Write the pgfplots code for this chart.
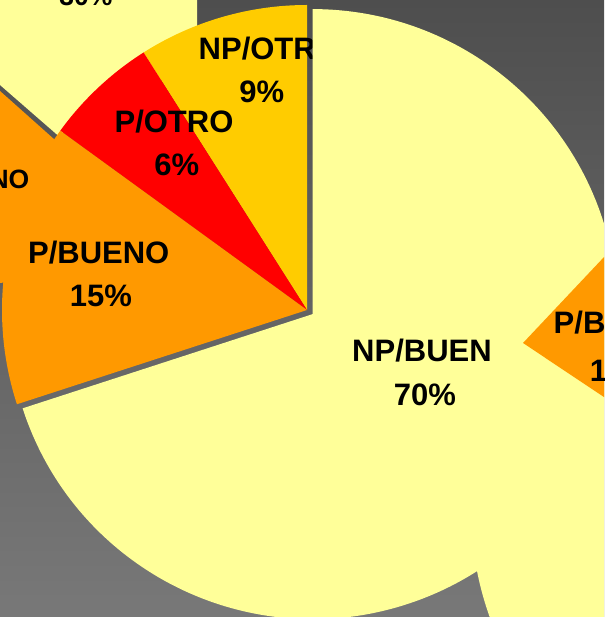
\documentclass[border=0pt]{standalone}
\usepackage{fontspec}
\setmainfont{Liberation Sans}
\usepackage{pgfplots}
\pgfplotsset{compat=1.18}
\definecolor{pyel}{HTML}{FFFF99}
\definecolor{porg}{HTML}{FF9900}
\definecolor{pred}{HTML}{FF0000}
\definecolor{pgold}{HTML}{FFCC00}
\definecolor{bgtop}{HTML}{4E4E4E}
\definecolor{bgbot}{HTML}{787878}
\tikzset{lbl/.style={font=\bfseries\fontsize{31}{31}\selectfont, inner sep=0pt, text=black},
  slbl/.style={font=\bfseries\fontsize{26.5}{26.5}\selectfont, inner sep=0pt, text=black}}
\begin{document}
\begin{tikzpicture}
\begin{axis}[width=604pt,height=617pt,scale only axis,
  xmin=0,xmax=604,ymin=0,ymax=617,y dir=reverse,hide axis,clip=false]
\begin{scope}
\clip (axis cs:0,0) rectangle (axis cs:604,617);
\fill[top color=bgtop,bottom color=bgbot] (axis cs:0,0) rectangle (axis cs:604,617);
% partly hidden pie, top left
\fill[porg] (axis cs:0,91) -- (axis cs:55,140) -- (axis cs:140,200) -- (axis cs:100,270) -- (axis cs:0,283) -- cycle;
\fill[pyel] (axis cs:0,0) -- (axis cs:197,0) -- (axis cs:197,60) -- (axis cs:58,135.5) -- (axis cs:0,85) -- cycle;
\node[slbl,anchor=base] at (axis cs:86,6) {30\%};
\node[slbl,anchor=base east] at (axis cs:29.5,188.3) {P/BUENO};
% main pie: NP/OTR 9, P/OTRO 6, P/BUENO 15, NP/BUEN 70 (exploded)
\fill[pgold] (axis cs:307,310) -- ++(90:305pt) arc[start angle=90, end angle={90+3.6*9}, radius=305pt] -- cycle;
\fill[pred] (axis cs:307,310) -- ++({90+3.6*9}:305pt) arc[start angle={90+3.6*9}, end angle={90+3.6*15}, radius=305pt] -- cycle;
\fill[porg] (axis cs:307,310) -- ++({90+3.6*15}:305pt) arc[start angle={90+3.6*15}, end angle={90+3.6*30}, radius=305pt] -- cycle;
\node[lbl,anchor=base west] at (axis cs:198.5,60) {NP/OTRO};
\node[lbl,anchor=base] at (axis cs:261.7,103) {9\%};
\node[lbl,anchor=base] at (axis cs:174,133) {P/OTRO};
\node[lbl,anchor=base] at (axis cs:176.7,176) {6\%};
\node[lbl,anchor=base] at (axis cs:98.7,263.3) {P/BUENO};
\node[lbl,anchor=base] at (axis cs:100.8,306) {15\%};
\fill[pyel] (axis cs:312.7,314.1) -- ++({90+3.6*30}:305pt) arc[start angle={90+3.6*30}, end angle={90+3.6*100}, radius=305pt] -- cycle;
% partly hidden pie, right
\fill[pyel] (axis cs:791,509) circle[radius=320pt];
\fill[porg] (axis cs:523,343) -- ++(-33.7:150pt) arc[start angle=-33.7, end angle=46.7, radius=150pt] -- cycle;
\node[lbl,anchor=base west] at (axis cs:553.5,333.3) {P/BUENO};
\node[lbl,anchor=base] at (axis cs:621,381.7) {15\%};
\node[lbl,anchor=base] at (axis cs:422,361) {NP/BUEN};
\node[lbl,anchor=base] at (axis cs:425,405) {70\%};
\end{scope}
\end{axis}
\pgfresetboundingbox
\path[use as bounding box] (current axis.south west) rectangle (current axis.north east);
\end{tikzpicture}
\end{document}
